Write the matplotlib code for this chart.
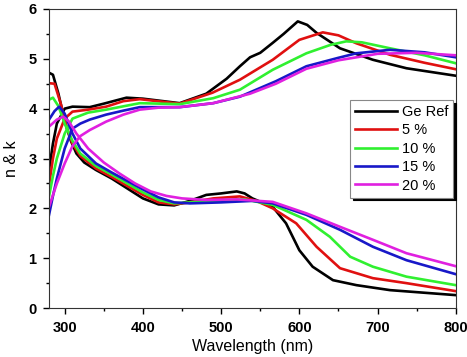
import matplotlib
matplotlib.use('Agg')
import matplotlib.pyplot as plt
from matplotlib.ticker import MultipleLocator

plt.rcParams['font.family'] = ['Liberation Sans', 'DejaVu Sans']

# wavelengths and values
# upper set (rising curves, end ~5 at 800 nm)
wl_black_n = [280, 285, 290, 300, 310, 332, 350, 379, 400, 447, 481, 507, 524, 537, 550, 566, 580, 598, 610, 622, 652, 694, 737, 800]
black_n = [2.77, 3.3, 3.7, 4.0, 4.04, 4.03, 4.1, 4.22, 4.2, 4.11, 4.3, 4.6, 4.85, 5.03, 5.12, 5.32, 5.5, 5.75, 5.68, 5.52, 5.21, 4.98, 4.81, 4.66]

wl_red_n = [280, 285, 290, 300, 310, 330, 353, 375, 396, 447, 489, 524, 566, 600, 630, 650, 673, 716, 760, 800]
red_n = [2.47, 3.0, 3.4, 3.8, 3.94, 3.98, 4.04, 4.15, 4.19, 4.10, 4.32, 4.58, 4.98, 5.38, 5.53, 5.47, 5.31, 5.08, 4.92, 4.79]

wl_green_n = [280, 285, 290, 300, 310, 330, 353, 396, 447, 490, 524, 566, 609, 640, 660, 680, 716, 760, 800]
green_n = [2.24, 2.65, 3.0, 3.5, 3.8, 3.92, 3.98, 4.11, 4.09, 4.21, 4.38, 4.78, 5.11, 5.28, 5.35, 5.33, 5.21, 5.07, 4.91]

wl_blue_n = [280, 285, 290, 300, 310, 320, 332, 353, 375, 396, 447, 490, 524, 570, 609, 650, 673, 716, 760, 800]
blue_n = [1.87, 2.25, 2.6, 3.2, 3.6, 3.7, 3.78, 3.88, 3.96, 4.03, 4.03, 4.11, 4.24, 4.55, 4.85, 5.02, 5.11, 5.18, 5.13, 5.03]

wl_mag_n = [280, 290, 300, 310, 320, 332, 353, 375, 396, 420, 447, 490, 537, 570, 609, 650, 700, 750, 800]
mag_n = [2.03, 2.5, 2.9, 3.25, 3.45, 3.57, 3.74, 3.88, 3.98, 4.02, 4.03, 4.11, 4.30, 4.5, 4.8, 4.97, 5.1, 5.12, 5.07]

# lower set (falling curves, end below 1 at 800 nm)
wl_black_k = [280, 285, 292, 300, 308, 315, 325, 340, 360, 380, 400, 420, 440, 460, 481, 500, 520, 530, 540, 555, 566, 583, 600, 617, 643, 673, 716, 800]
black_k = [4.72, 4.68, 4.3, 3.75, 3.35, 3.1, 2.92, 2.77, 2.6, 2.4, 2.2, 2.08, 2.06, 2.15, 2.27, 2.3, 2.34, 2.3, 2.2, 2.1, 2.03, 1.7, 1.16, 0.83, 0.56, 0.46, 0.36, 0.26]

wl_red_k = [280, 287, 295, 303, 310, 320, 340, 360, 380, 400, 420, 440, 460, 490, 524, 545, 566, 596, 622, 652, 694, 737, 800]
red_k = [4.51, 4.5, 4.1, 3.6, 3.3, 3.05, 2.8, 2.63, 2.45, 2.27, 2.12, 2.08, 2.12, 2.2, 2.24, 2.15, 2.0, 1.7, 1.23, 0.80, 0.60, 0.50, 0.34]

wl_green_k = [280, 285, 292, 300, 310, 320, 340, 360, 380, 400, 420, 440, 460, 500, 530, 566, 609, 639, 665, 694, 737, 800]
green_k = [4.18, 4.22, 4.05, 3.7, 3.35, 3.1, 2.85, 2.68, 2.5, 2.32, 2.17, 2.1, 2.12, 2.16, 2.18, 2.07, 1.77, 1.43, 1.03, 0.83, 0.63, 0.46]

wl_blue_k = [280, 287, 293, 300, 310, 320, 340, 360, 380, 400, 420, 440, 460, 500, 540, 566, 609, 652, 694, 737, 800]
blue_k = [3.78, 3.95, 4.04, 3.9, 3.5, 3.2, 2.9, 2.72, 2.55, 2.38, 2.22, 2.12, 2.1, 2.12, 2.15, 2.10, 1.87, 1.57, 1.23, 0.96, 0.68]

wl_mag_k = [280, 290, 298, 305, 315, 330, 350, 370, 390, 410, 430, 450, 480, 520, 566, 609, 652, 694, 737, 800]
mag_k = [3.64, 3.78, 3.84, 3.75, 3.5, 3.2, 2.92, 2.7, 2.5, 2.34, 2.25, 2.2, 2.17, 2.18, 2.13, 1.90, 1.63, 1.37, 1.10, 0.84]

labels = ['Ge Ref', '5 %', '10 %', '15 %', '20 %']
colores = ['black', '#e01010', '#30f030', '#1818c8', '#e020e0']

series = [
    (wl_black_n, black_n, wl_black_k, black_k),
    (wl_red_n, red_n, wl_red_k, red_k),
    (wl_green_n, green_n, wl_green_k, green_k),
    (wl_blue_n, blue_n, wl_blue_k, blue_k),
    (wl_mag_n, mag_n, wl_mag_k, mag_k),
]

fig = plt.figure(figsize=(4.67, 3.57), dpi=100)
ax = fig.add_axes([0.105, 0.137, 0.871, 0.838])

for (xn, yn, xk, yk), lab, col in zip(series, labels, colores):
    ax.plot(xn, yn, color=col, lw=1.9, label=lab)
    ax.plot(xk, yk, color=col, lw=1.9)

ax.set_xlim(280, 800)
ax.set_ylim(0, 6)
ax.xaxis.set_major_locator(MultipleLocator(100))
ax.xaxis.set_minor_locator(MultipleLocator(50))
ax.yaxis.set_major_locator(MultipleLocator(1))
ax.yaxis.set_minor_locator(MultipleLocator(0.5))
ax.tick_params(which='major', direction='out', length=4, width=1, labelsize=10.5, pad=5)
ax.tick_params(which='minor', direction='out', length=2.5, width=1)
for lbl in ax.get_xticklabels() + ax.get_yticklabels():
    lbl.set_fontweight('bold')
for sp in ax.spines.values():
    sp.set_color('#333333')

ax.set_xlabel('Wavelength (nm)', fontsize=11.5, labelpad=3)
ax.set_ylabel('n & k', fontsize=11.5, labelpad=7)

leg = ax.legend(loc='upper left', bbox_to_anchor=(0.722, 0.72), fontsize=10.5,
                fancybox=False, shadow={'color': 'black', 'alpha': 1},
                handlelength=2.9, handletextpad=0.3, labelspacing=0.3,
                borderpad=0.35, framealpha=1)
leg.get_frame().set_edgecolor('#888888')
leg.get_frame().set_linewidth(0.8)

plt.savefig('out.png', dpi=100)
